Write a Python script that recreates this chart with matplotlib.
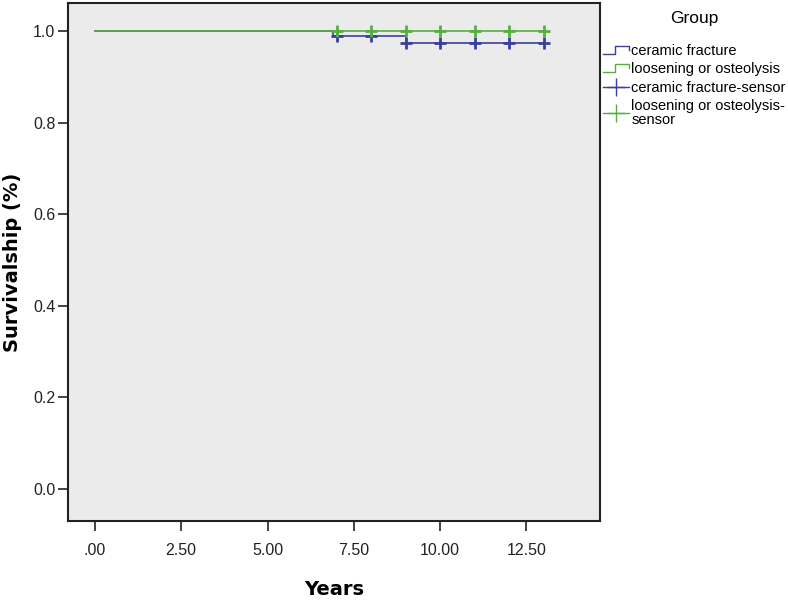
import matplotlib
matplotlib.use("Agg")
import matplotlib.pyplot as plt
from matplotlib.lines import Line2D
from matplotlib.legend_handler import HandlerBase

# Kaplan-Meier style survival data
blue_t = [0, 6.9, 9, 13]
blue_s = [1.0, 0.989, 0.974, 0.974]
blue_cens_t = [7, 8, 9, 10, 11, 12, 13]
blue_cens_s = [0.989, 0.989, 0.974, 0.974, 0.974, 0.974, 0.974]

green_t = [0, 13]
green_s = [1.0, 1.0]
green_cens_t = [7, 8, 9, 10, 11, 12, 13]
green_cens_s = [1.0, 1.0, 1.0, 1.0, 1.0, 1.0, 1.0]

xticks = [0, 2.5, 5, 7.5, 10, 12.5]
xtick_labels = [".00", "2.50", "5.00", "7.50", "10.00", "12.50"]
yticks = [0.0, 0.2, 0.4, 0.6, 0.8, 1.0]

group_labels = ["ceramic fracture", "loosening or osteolysis",
                "ceramic fracture-sensor", "loosening or osteolysis-\nsensor"]

blue = "#3a3f9e"
green = "#55b040"


class StepHandler(HandlerBase):
    def create_artists(self, legend, orig_handle, xdescent, ydescent,
                       width, height, fontsize, trans):
        w, h = width, height
        xs = [-xdescent, -xdescent + 0.45 * w, -xdescent + 0.45 * w,
              -xdescent + w, -xdescent + w]
        ys = [0.1 * h, 0.1 * h, 0.9 * h, 0.9 * h, 0.5 * h]
        ln = Line2D(xs, ys, color=orig_handle.get_color(), lw=1.0,
                    transform=trans)
        return [ln]


fig = plt.figure(figsize=(7.88, 6), dpi=100)
ax = fig.add_axes([68 / 788, 79 / 600, 532 / 788, 518 / 600])
ax.set_facecolor("#ebebeb")

ax.step(blue_t, blue_s, where="post", color=blue, lw=1.2)
ax.plot(blue_cens_t, blue_cens_s, "+", color=blue, ms=9, mew=2.0)
ax.step(green_t, green_s, where="post", color=green, lw=1.2)
ax.plot(green_cens_t, green_cens_s, "+", color=green, ms=9, mew=2.0)

ax.set_xlim(-0.78, 14.63)
ax.set_ylim(-0.07, 1.061)
ax.set_xticks(xticks)
ax.set_xticklabels(xtick_labels)
ax.set_yticks(yticks)
ax.set_yticklabels([f"{v:.1f}" for v in yticks])
ax.tick_params(direction="out", length=7, width=1.2, labelsize=11.5,
               pad=2, colors="#222222")
ax.tick_params(axis="x", pad=9)
for lab in ax.get_xticklabels() + ax.get_yticklabels():
    lab.set_fontfamily("Liberation Sans")
for sp in ax.spines.values():
    sp.set_linewidth(1.5)
    sp.set_color("#222222")

ax.set_xlabel("Years", fontsize=14, fontweight="bold", labelpad=16)
ax.set_ylabel("Survivalship (%)", fontsize=14, fontweight="bold", labelpad=8)

h1 = Line2D([], [], color=blue)
h2 = Line2D([], [], color=green)
h3 = Line2D([], [], color=blue, marker="+", ms=13, mew=1.0, lw=1.0)
h4 = Line2D([], [], color=green, marker="+", ms=13, mew=1.0, lw=1.0)
leg = fig.legend([h1, h2, h3, h4], group_labels,
                 handler_map={h1: StepHandler(), h2: StepHandler()},
                 loc="upper left", bbox_to_anchor=(603 / 788, 1 - 11 / 600),
                 frameon=False, title="Group", handlelength=1.8,
                 handleheight=0.7, handletextpad=0.15, labelspacing=0.3,
                 borderaxespad=0, borderpad=0, numpoints=1,
                 prop={"family": "Liberation Sans", "size": 10.5},
                 title_fontproperties={"family": "Liberation Sans", "size": 12.5})
leg._legend_box.sep = 13
for t in leg.get_texts():
    t.set_linespacing(0.95)

fig.savefig("out.png", dpi=100)
